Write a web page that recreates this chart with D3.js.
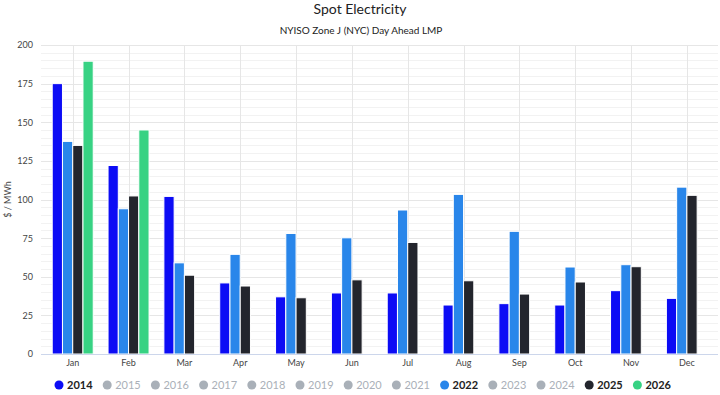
<!DOCTYPE html>
<html>
<head>
<meta charset="utf-8">
<script src="https://cdn.jsdelivr.net/npm/d3@7"></script>
<style>
  body { margin: 0; background: #fff; }
  svg { font-family: Lato, "Open Sans", sans-serif; display: block; }
</style>
</head>
<body>
<div id="chart"></div>
<script>
var months = ["Jan", "Feb", "Mar", "Apr", "May", "Jun", "Jul", "Aug", "Sep", "Oct", "Nov", "Dec"];
var yTicks = [0, 25, 50, 75, 100, 125, 150, 175, 200];

var v2014 = [175, 122, 102, 46, 37, 39.5, 39.5, 31.7, 32.6, 31.7, 41, 36];
var v2022 = [137.6, 94, 59, 64.5, 78, 75.2, 93.2, 103.3, 79.4, 56.3, 57.8, 108];
var v2025 = [135, 102.3, 51, 44, 36.4, 48, 72.2, 47.4, 38.8, 46.6, 56.5, 102.7];
var v2026 = [189.5, 145, null, null, null, null, null, null, null, null, null, null];

var legendYears = ["2014", "2015", "2016", "2017", "2018", "2019", "2020", "2021", "2022", "2023", "2024", "2025", "2026"];
var visibleYears = ["2014", "2022", "2025", "2026"];
var colors = { "2014": "#0c0cf5", "2022": "#2986ea", "2025": "#23252d", "2026": "#37d283" };

var series = [
    { name: "2014", values: v2014 },
    { name: "2022", values: v2022 },
    { name: "2025", values: v2025 },
    { name: "2026", values: v2026 }
];

var width = 720, height = 395;
var plotLeft = 41, plotRight = 718, plotTop = 45, plotBottom = 354;

var svg = d3.select("#chart").append("svg")
    .attr("width", width)
    .attr("height", height);

var x = d3.scaleBand()
    .domain(months)
    .range([44.8, 714.8])
    .padding(0);

var groupW = 41;
var xs = d3.scaleBand()
    .domain(visibleYears)
    .range([(x.bandwidth() - groupW) / 2, (x.bandwidth() + groupW) / 2])
    .padding(0);

var y = d3.scaleLinear()
    .domain([0, 200])
    .range([plotBottom, plotTop]);

// minor grid
svg.append("g")
    .selectAll("line")
    .data(d3.range(0, 201, 5).filter(d => d % 25 !== 0))
    .enter().append("line")
    .attr("x1", plotLeft).attr("x2", plotRight)
    .attr("y1", d => Math.round(y(d)) + 0.5).attr("y2", d => Math.round(y(d)) + 0.5)
    .attr("stroke", "#f2f2f2");

// major grid
svg.append("g")
    .selectAll("line")
    .data(yTicks.slice(1))
    .enter().append("line")
    .attr("x1", plotLeft).attr("x2", plotRight)
    .attr("y1", d => Math.round(y(d)) + 0.5).attr("y2", d => Math.round(y(d)) + 0.5)
    .attr("stroke", "#e6e6e6");

// vertical grid
svg.append("g")
    .selectAll("line")
    .data(months)
    .enter().append("line")
    .attr("x1", d => Math.round(x(d) + x.bandwidth() / 2) + 0.5)
    .attr("x2", d => Math.round(x(d) + x.bandwidth() / 2) + 0.5)
    .attr("y1", plotTop).attr("y2", plotBottom)
    .attr("stroke", "#e6e6e6");

// y axis labels
var yAxis = d3.axisLeft(y).tickValues(yTicks).tickSize(0).tickPadding(0);
var gy = svg.append("g")
    .attr("transform", "translate(33,0)")
    .call(yAxis);
gy.select(".domain").remove();
gy.selectAll("text")
    .attr("font-size", 9)
    .attr("fill", "#444")
    .attr("font-family", "Lato, sans-serif");

svg.append("text")
    .attr("transform", "translate(11," + ((plotTop + plotBottom) / 2) + ") rotate(-90)")
    .attr("text-anchor", "middle")
    .attr("font-size", 9)
    .attr("fill", "#444")
    .text("$ / MWh");

// bars
var groups = svg.append("g")
    .selectAll("g")
    .data(months)
    .enter().append("g")
    .attr("transform", d => "translate(" + x(d) + ",0)");

groups.selectAll("rect")
    .data((m, i) => series.map(s => ({ name: s.name, value: s.values[i] })).filter(d => d.value !== null))
    .enter().append("rect")
    .attr("x", d => xs(d.name))
    .attr("width", xs.bandwidth())
    .attr("y", d => y(d.value))
    .attr("height", d => y(0) - y(d.value))
    .attr("fill", d => colors[d.name])
    .attr("stroke", "#fff")
    .attr("stroke-width", 1);

// x axis
svg.append("line")
    .attr("x1", plotLeft).attr("x2", plotRight)
    .attr("y1", plotBottom + 0.5).attr("y2", plotBottom + 0.5)
    .attr("stroke", "#ccd6eb");

var xAxis = d3.axisBottom(x).tickSize(0).tickPadding(0);
var gx = svg.append("g")
    .attr("transform", "translate(0," + (plotBottom + 12) + ")")
    .call(xAxis);
gx.select(".domain").remove();
gx.selectAll("text")
    .attr("dy", 0)
    .attr("font-size", 9)
    .attr("fill", "#444")
    .attr("font-family", "Lato, sans-serif");

// titles
svg.append("text")
    .attr("x", 360).attr("y", 14)
    .attr("text-anchor", "middle")
    .attr("font-size", 14)
    .attr("fill", "#222")
    .text("Spot Electricity");

svg.append("text")
    .attr("x", 361).attr("y", 34)
    .attr("text-anchor", "middle")
    .attr("font-size", 10)
    .attr("fill", "#222")
    .text("NYISO Zone J (NYC) Day Ahead LMP");

// legend
var legend = svg.append("g")
    .selectAll("g")
    .data(legendYears)
    .enter().append("g")
    .attr("transform", (d, i) => "translate(" + (59 + i * 48.2) + ",385)");

legend.append("circle")
    .attr("r", 4.5)
    .attr("fill", d => colors[d] || "#a9b0b8");

legend.append("text")
    .attr("x", 8)
    .attr("y", 4)
    .attr("font-size", 11)
    .attr("font-weight", d => colors[d] ? "bold" : "normal")
    .attr("fill", d => colors[d] ? "#222" : "#aab0b8")
    .text(d => d);
</script>
</body>
</html>
